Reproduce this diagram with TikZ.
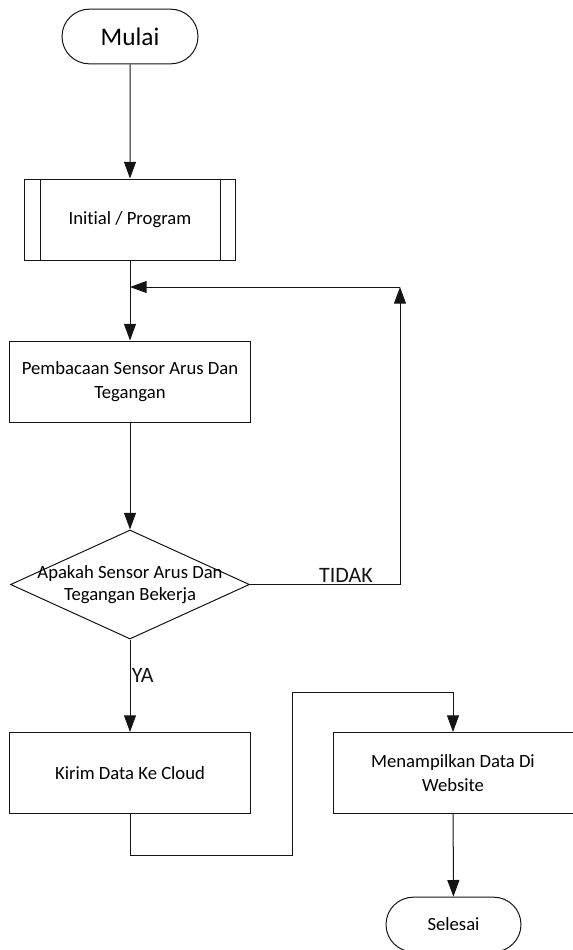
\documentclass[tikz,border=0pt]{standalone}
\usepackage{fontspec}
\setmainfont{Carlito}[Ligatures=NoCommon]
\usepackage{tikz}
\usetikzlibrary{shapes.geometric, shapes.misc, arrows.meta, positioning, calc}
\definecolor{mydark}{RGB}{20,20,20}
\tikzset{
  terminal/.style={rounded rectangle, draw=mydark, line width=0.75pt,
    minimum width=102pt, minimum height=41pt, inner sep=0pt},
  procbox/.style={rectangle, draw=mydark, line width=0.75pt,
    minimum width=180.75pt, minimum height=60.75pt, align=center,
    font=\fontsize{14}{18}\selectfont},
  decision/.style={diamond, draw=mydark, line width=0.75pt,
    minimum width=179.25pt, minimum height=81.75pt, inner sep=0pt},
  arrow/.style={-{Triangle[length=12.5pt, width=9pt]}, line width=0.75pt, color=mydark},
  line/.style={line width=0.75pt, color=mydark},
  yesno/.style={font=\fontsize{16.5}{20}\selectfont, inner sep=1pt}
}

\begin{document}
\begin{tikzpicture}[x=0.75pt, y=-0.75pt]
  \useasboundingbox (0,0) rectangle (573,950);

  % --- nodes ---
  \node[terminal, font=\fontsize{19}{22}\selectfont] (mulai) at (130,36.5) {Mulai};
  \node[procbox, minimum width=158.25pt] (init) at (130,219.5) {Initial / Program};
  \node[procbox] (baca) at (130,381.5) {Pembacaan Sensor Arus Dan\\Tegangan};
  \node[decision, label={[font=\fontsize{14}{17}\selectfont, align=center]center:Apakah Sensor Arus Dan\\Tegangan Bekerja}] (cek) at (130,584.5) {};
  \node[procbox] (kirim) at (130,773) {Kirim Data Ke Cloud};
  \node[procbox, minimum width=180pt] (tampil) at (453,773) {Menampilkan Data Di\\Website};
  \node[terminal, minimum width=101.25pt, font=\fontsize{14}{17}\selectfont] (selesai) at (453.5,924.5) {Selesai};

  % subprocess side bars
  \draw[line] ([xshift=12pt]init.north west) -- ([xshift=12pt]init.south west);
  \draw[line] ([xshift=-12pt]init.north east) -- ([xshift=-12pt]init.south east);

  % --- helper points ---
  \coordinate (loop) at (400,287);
  \coordinate (k1) at (292,855);
  \coordinate (k2) at (292,692);

  % --- connectors ---
  \draw[arrow] (mulai) -- (init);
  \draw[arrow] (init) -- (baca);
  \draw[arrow] (baca) -- (cek);
  \draw[arrow] (cek.east) -| node[yesno, pos=0.32, above] {TIDAK} (loop);
  \draw[arrow] (loop) -- (init.south |- loop);
  \draw[arrow] (cek.south) -- node[yesno, pos=0.39, right] {YA} (kirim.north);
  \draw[arrow] (kirim.south) |- (k1) -- (k2) -| (tampil.north);
  \draw[arrow] (tampil) -- (selesai);
\end{tikzpicture}
\end{document}
